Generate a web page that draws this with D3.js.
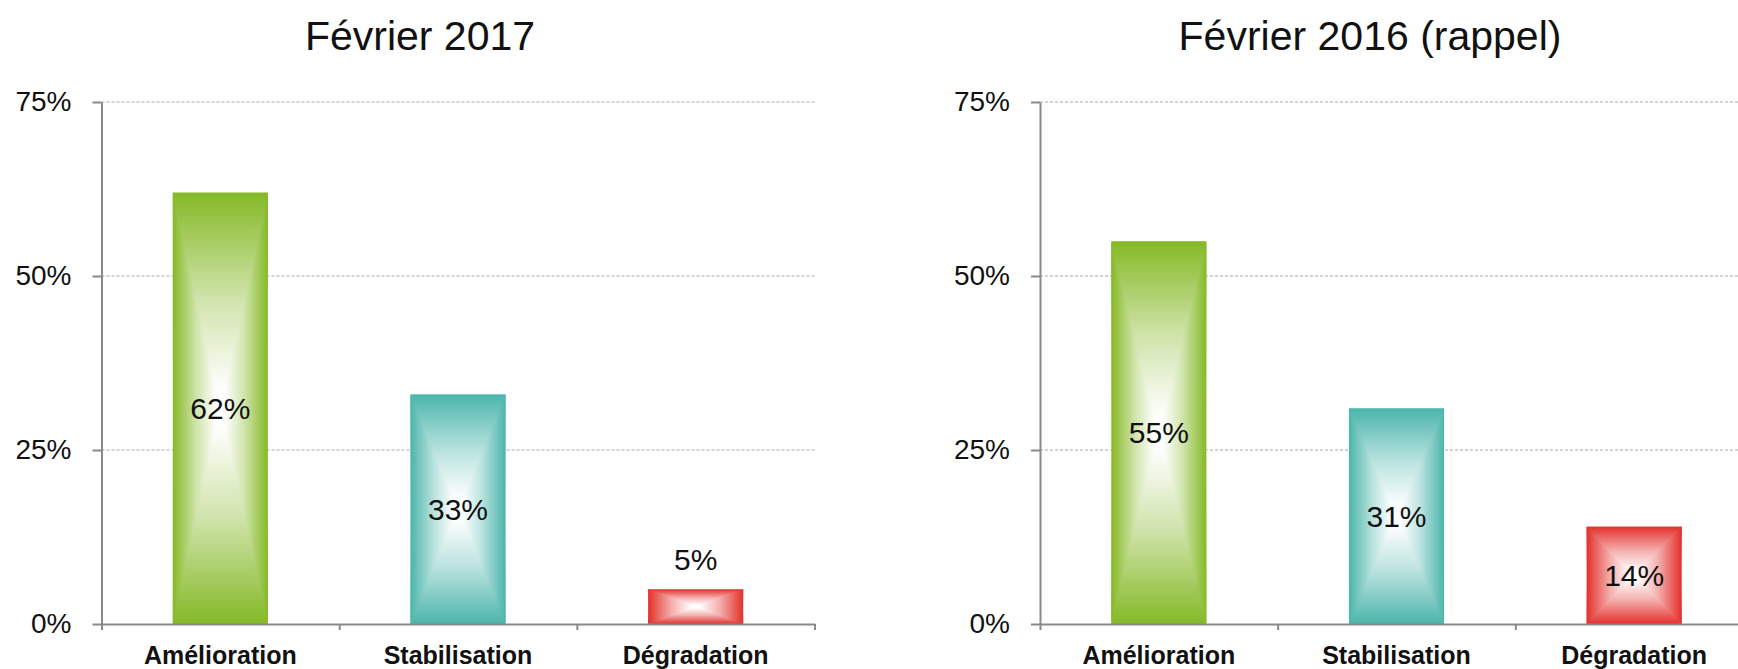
<!doctype html>
<html>
<head>
    <meta charset="UTF-8">
    <title>Février 2017 / Février 2016</title>
    <script src="https://d3js.org/d3.v7.min.js"></script>
    <style>
        body{ margin:0; background:#fff; }
        text{ font-family:"Liberation Sans", Arial, sans-serif; fill:#111; }
        .xlab text{ font-weight:bold; font-size:25px; }
    </style>
</head>
<body>
    <svg id="chart" width="1738" height="669"></svg>

    <script>
        // data
        var categories = ["Amélioration", "Stabilisation", "Dégradation"];
        var values2017 = [62, 33, 5];
        var values2016 = [55, 31, 14];
        var yTicks = [0, 25, 50, 75];
        var titles = ["Février 2017", "Février 2016 (rappel)"];
        var barColors = ["#85b926", "#4bb5ab", "#e3302b"];

        var svg = d3.select("#chart");
        var top0 = 102, bottom0 = 624, plotW = 713;

        // gradients, Excel-like "from centre" fill
        var defs = svg.append("defs");
        function stops(g, c, reverse){
            var light = d3.interpolateRgb(c, "#ffffff")(0.62);
            var s = [[0, c], [0.5, light], [0.92, "#ffffff"]];
            if(reverse){ s = s.map(function(d){ return [1 - d[0], d[1]]; }).reverse(); }
            s.forEach(function(d){
                g.append("stop").attr("offset", d[0]).attr("stop-color", d[1]);
            });
        }
        barColors.forEach(function(c, i){
            var v = defs.append("linearGradient").attr("id", "v" + i)
                        .attr("x1", 0).attr("y1", 0).attr("x2", 0).attr("y2", 1);
            var light = d3.interpolateRgb(c, "#ffffff")(0.62);
            [[0, c], [0.25, light], [0.46, "#ffffff"], [0.54, "#ffffff"], [0.75, light], [1, c]].forEach(function(d){
                v.append("stop").attr("offset", d[0]).attr("stop-color", d[1]);
            });
            var l = defs.append("linearGradient").attr("id", "l" + i)
                        .attr("x1", 0).attr("y1", 0).attr("x2", 1).attr("y2", 0);
            stops(l, c, false);
            var r = defs.append("linearGradient").attr("id", "r" + i)
                        .attr("x1", 0).attr("y1", 0).attr("x2", 1).attr("y2", 0);
            stops(r, c, true);
        });

        drawChart(101.5, 420, titles[0], values2017);
        drawChart(1040, 1370, titles[1], values2016);

        function drawChart(x0, titleX, title, values){
            var g = svg.append("g");

            var x = d3.scaleBand().domain(categories)
                      .range([x0, x0 + plotW])
                      .paddingInner(0.6).paddingOuter(0.3);
            var xEdge = d3.scaleLinear().domain([0, categories.length]).range([x0, x0 + plotW]);
            var y = d3.scaleLinear().domain([0, 75]).range([bottom0, top0]);

            g.append("text")
             .attr("x", titleX).attr("y", 50)
             .attr("text-anchor", "middle")
             .style("font-size", "41px")
             .text(title);

            // grid
            g.selectAll(".grid").data(yTicks.filter(function(d){ return d > 0; }))
             .enter().append("line")
             .attr("x1", x0).attr("x2", x0 + plotW)
             .attr("y1", function(d){ return y(d); })
             .attr("y2", function(d){ return y(d); })
             .attr("stroke", "#a8a8a8").attr("stroke-width", 1)
             .attr("stroke-dasharray", "3,2");

            // bars
            var bars = g.selectAll(".bar").data(values).enter().append("g");
            bars.append("rect")
                .attr("x", function(d, i){ return x(categories[i]); })
                .attr("y", function(d){ return y(d); })
                .attr("width", x.bandwidth())
                .attr("height", function(d){ return bottom0 - y(d); })
                .attr("fill", function(d, i){ return "url(#v" + i + ")"; });
            bars.append("polygon")
                .attr("points", function(d, i){
                    var bx = x(categories[i]), by = y(d), w = x.bandwidth(), h = bottom0 - y(d);
                    return [[bx, by], [bx + w / 2, by + h / 2], [bx, by + h]].join(" ");
                })
                .attr("fill", function(d, i){ return "url(#l" + i + ")"; });
            bars.append("polygon")
                .attr("points", function(d, i){
                    var bx = x(categories[i]), by = y(d), w = x.bandwidth(), h = bottom0 - y(d);
                    return [[bx + w, by], [bx + w / 2, by + h / 2], [bx + w, by + h]].join(" ");
                })
                .attr("fill", function(d, i){ return "url(#r" + i + ")"; });

            // value labels
            bars.append("text")
                .attr("x", function(d, i){ return x(categories[i]) + x.bandwidth() / 2; })
                .attr("y", function(d){
                    var h = bottom0 - y(d);
                    return h > 60 ? y(d) + h / 2 : y(d) - 30;
                })
                .attr("dy", "0.36em")
                .attr("text-anchor", "middle")
                .style("font-size", "30px")
                .text(function(d){ return d + "%"; });

            // y axis
            var ya = g.append("g")
                .attr("transform", "translate(" + x0 + ",0)")
                .call(d3.axisLeft(y).tickValues(yTicks)
                        .tickFormat(function(d){ return d + "%"; })
                        .tickSize(9).tickSizeOuter(0).tickPadding(21));
            ya.selectAll("text").style("font-size", "28px").attr("fill", "#111");

            // x axis
            var xa = g.append("g")
                .attr("transform", "translate(0," + bottom0 + ")")
                .call(d3.axisBottom(xEdge).tickValues(d3.range(categories.length + 1))
                        .tickFormat("").tickSize(6).tickSizeOuter(0));

            g.selectAll(".domain, .tick line")
             .attr("stroke", "#898989").attr("stroke-width", 2);

            var xl = g.append("g").attr("class", "xlab");
            xl.selectAll("text").data(categories).enter().append("text")
              .attr("x", function(d){ return x(d) + x.bandwidth() / 2; })
              .attr("y", bottom0 + 40)
              .attr("text-anchor", "middle")
              .text(function(d){ return d; });
        }
    </script>
</body>
</html>
